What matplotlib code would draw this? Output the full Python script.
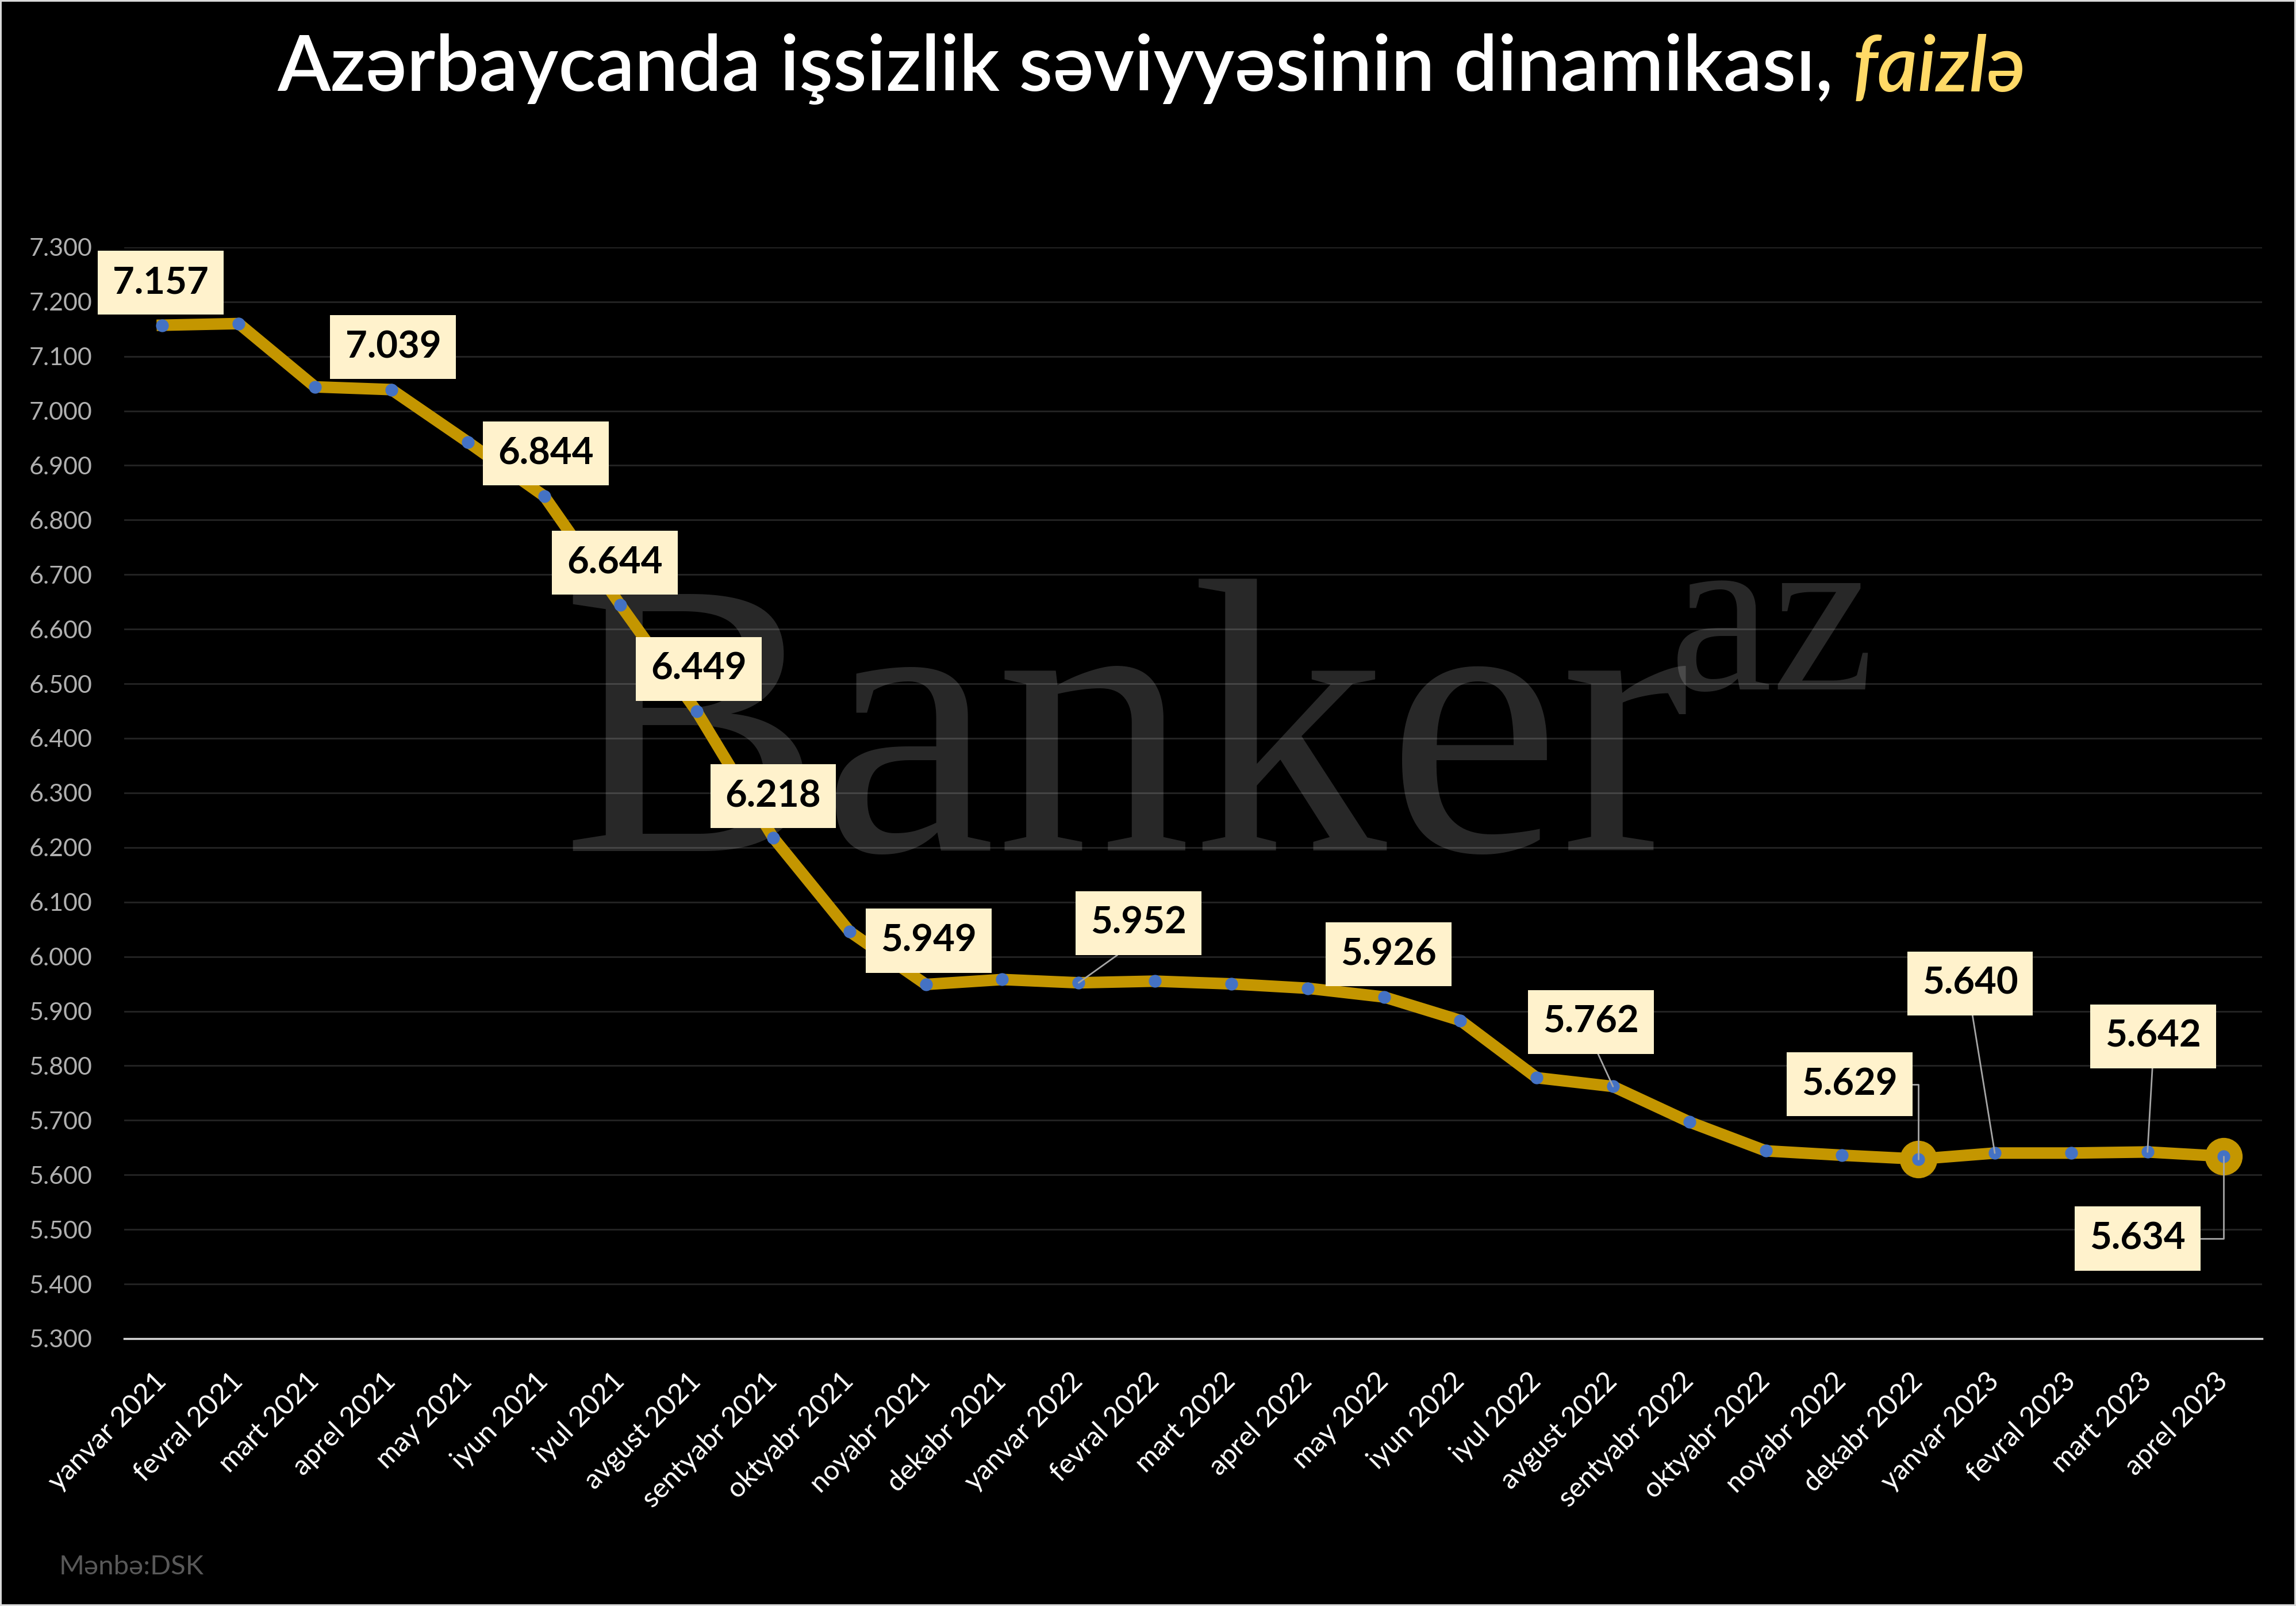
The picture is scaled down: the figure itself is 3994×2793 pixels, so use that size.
import numpy as np
import matplotlib
matplotlib.use("Agg")
import matplotlib.pyplot as plt
from matplotlib.ticker import FormatStrFormatter

months = ["yanvar 2021", "fevral 2021", "mart 2021", "aprel 2021", "may 2021", "iyun 2021",
          "iyul 2021", "avgust 2021", "sentyabr 2021", "oktyabr 2021", "noyabr 2021", "dekabr 2021",
          "yanvar 2022", "fevral 2022", "mart 2022", "aprel 2022", "may 2022", "iyun 2022",
          "iyul 2022", "avgust 2022", "sentyabr 2022", "oktyabr 2022", "noyabr 2022", "dekabr 2022",
          "yanvar 2023", "fevral 2023", "mart 2023", "aprel 2023"]
rate = [7.157, 7.160, 7.044, 7.039, 6.943, 6.844, 6.644, 6.449, 6.218, 6.046, 5.949, 5.958,
        5.952, 5.955, 5.950, 5.942, 5.926, 5.883, 5.778, 5.762, 5.697, 5.644, 5.636, 5.629,
        5.640, 5.640, 5.642, 5.634]

# which points carry a value label, and where the label box sits (offset in pixels)
lbl_idx = [0, 3, 5, 6, 7, 8, 10, 12, 16, 19, 23, 24, 26, 27]
lbl_dx = [-3, 3, 3, -10, 3, 0, 5, 104, 8, -38, -120, -43, 10, -150]
lbl_dy = [74, 74, 74, 74, 74, 72, 76, 104, 74, 112, 130, 295, 201, -143]
lbl_leader = ["", "", "", "", "", "", "", "line", "", "line", "elbow", "line", "line", "elbow"]
highlight = [23, 27]

SANS = ["Lato", "DejaVu Sans"]
GOLD = "#C49600"
LEADER = "#A6A6A6"

fig = plt.figure(figsize=(39.94, 27.93), dpi=100, facecolor="black")
fig.patch.set_edgecolor("#D9D9D9")
fig.patch.set_linewidth(3)
ax = fig.add_axes([0.0541, 0.1665, 0.9311, 0.6796])
ax.set_facecolor("black")

x = np.arange(len(months))
y = np.array(rate)

# watermark between the grid and the line
ax.text(0.2445, 0.4705, "Banker", transform=fig.transFigure, fontsize=490,
        family="Liberation Serif", color="white", alpha=0.16, va="baseline", ha="left", zorder=1)
ax.text(0.727, 0.5707, "az", transform=fig.transFigure, fontsize=290,
        family="Liberation Serif", color="white", alpha=0.16, va="baseline", ha="left", zorder=1)

ax.plot(x, y, color=GOLD, lw=14.5, zorder=3)
ax.plot(x[highlight], y[highlight], "o", ms=47, color=GOLD, mec="none", zorder=4)
ax.plot(x, y, "o", ms=16, color="#4472C4", mec="none", zorder=5)

for i, dx, dy, kind in zip(lbl_idx, lbl_dx, lbl_dy, lbl_leader):
    props = None
    if kind == "line":
        props = dict(arrowstyle="-", color=LEADER, lw=2, relpos=(0.5, 0), shrinkA=0, shrinkB=0)
    elif kind == "elbow":
        props = dict(arrowstyle="-", color=LEADER, lw=2, relpos=(1, 0.5), shrinkA=0, shrinkB=0,
                     connectionstyle="angle,angleA=0,angleB=90,rad=0")
    ax.annotate("%.3f" % rate[i], xy=(i, rate[i]), xytext=(dx, dy), textcoords="offset pixels",
                ha="center", va="center", fontsize=47, fontweight="bold", family=SANS, color="black",
                bbox=dict(boxstyle="square,pad=0.4", fc="#FFF2CC", ec="none"),
                arrowprops=props, zorder=6)

ax.set_xlim(-0.5, len(months) - 0.5)
ax.set_ylim(5.3, 7.3)
ax.set_yticks(np.arange(5.3, 7.301, 0.1))
ax.yaxis.set_major_formatter(FormatStrFormatter("%.3f"))
ax.set_xticks(x)
ax.set_xticklabels(months, rotation=45, ha="right", va="center", rotation_mode="anchor")
for t in ax.get_xticklabels() + ax.get_yticklabels():
    t.set_family(SANS)
ax.tick_params(axis="y", length=0, pad=40, labelsize=31, labelcolor="#B0B0B0")
ax.tick_params(axis="x", length=0, pad=48, labelsize=35, labelcolor="white")

ax.set_axisbelow(True)
ax.yaxis.grid(True, color="#222222", lw=2.2)
for s in ["top", "right", "left"]:
    ax.spines[s].set_visible(False)
ax.spines["bottom"].set_color("#D9D9D9")
ax.spines["bottom"].set_linewidth(2.5)

fig.text(0.7985, 0.957, "Azərbaycanda işsizlik səviyyəsinin dinamikası,", ha="right", va="center",
         fontsize=97, color="white", fontweight="semibold", family=SANS)
fig.text(0.8068, 0.957, "faizlə", ha="left", va="center", fontsize=97, color="#FFD966",
         fontweight="semibold", style="italic", family=SANS)
fig.text(0.0258, 0.0197, "Mənbə:DSK", ha="left", va="baseline", fontsize=34, color="#595959", family=SANS)

fig.savefig("out.png", dpi=100, facecolor=fig.get_facecolor(), edgecolor=fig.get_edgecolor())
